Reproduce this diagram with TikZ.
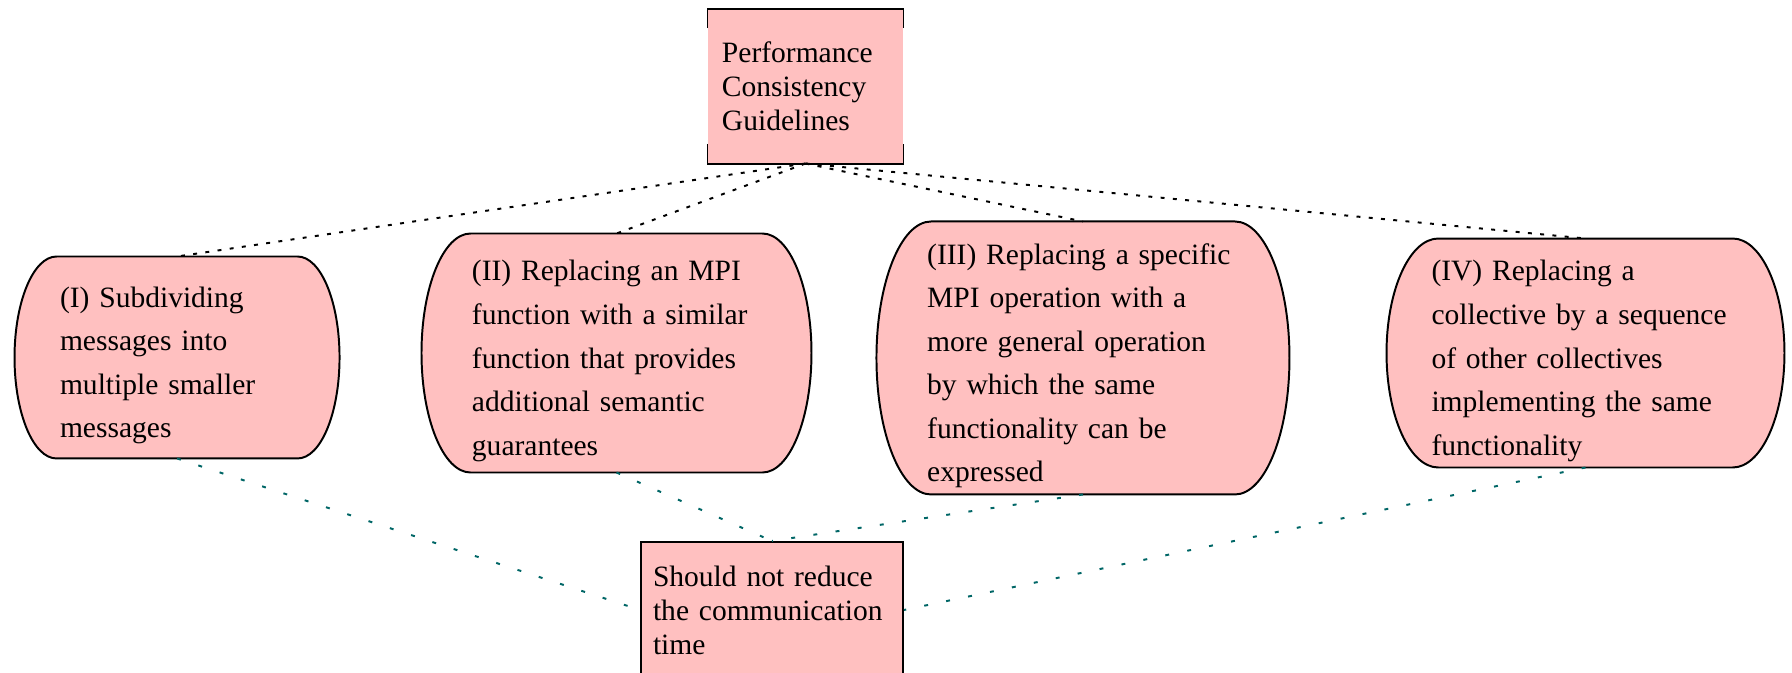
\documentclass[tikz,border=0pt]{standalone}
\usepackage{fontspec}
\setmainfont{Liberation Serif}
\usetikzlibrary{backgrounds,calc}
\definecolor{boxpink}{RGB}{255,192,192}
\definecolor{linkteal}{RGB}{0,102,102}
\tikzset{
  capnode/.style={align=left,inner sep=0pt,text height=14.8pt,font=\fontsize{12}{17.7}\selectfont},
  capbox/.style={draw=black,line width=0.8pt,fill=boxpink},
  rectnode/.style={align=left,inner sep=0pt,fill=boxpink,font=\fontsize{12}{13.8}\selectfont},
  bracketline/.style={line width=0.8pt},
  topline/.style={line width=0.8pt,dash pattern=on 1.6pt off 3.4pt},
  botline/.style={line width=0.8pt,color=linkteal,dash pattern=on 1.6pt off 7.5pt}
}

\begin{document}
\begin{tikzpicture}
  \useasboundingbox (0,0) rectangle (25.6,-9.614);
  % guideline box on top
  \node[rectnode,minimum width=2.786cm,minimum height=2.2cm,text width=2.386cm] (guide) at (11.507,-1.229)
    {Performance\\Consistency\\Guidelines};
  \draw[bracketline] ([yshift=-0.28cm]guide.north west) -- (guide.north west) -- (guide.north east) -- ([yshift=-0.28cm]guide.north east);
  \draw[bracketline] ([yshift=0.28cm]guide.south west) -- (guide.south west) -- (guide.south east) -- ([yshift=0.28cm]guide.south east);
  % the four rules
  \node[capnode,minimum width=4.629cm,minimum height=2.871cm,text width=3.343cm] (sub) at (2.529,-5.107)
    {(I) Subdividing\\messages into\\multiple smaller\\messages};
  \node[capnode,minimum width=5.557cm,minimum height=3.4cm,text width=4.129cm] (rep) at (8.807,-5.043)
    {(II) Replacing an MPI\\function with a similar\\function that provides\\additional semantic\\guarantees};
  \node[capnode,minimum width=5.886cm,minimum height=3.886cm,text width=4.45cm] (gen) at (15.471,-5.114)
    {(III) Replacing a specific\\MPI operation with a\\more general operation\\by which the same\\functionality can be\\expressed};
  \node[capnode,minimum width=5.671cm,minimum height=3.257cm,text width=4.4cm] (coll) at (22.65,-5.043)
    {(IV) Replacing a\\collective by a sequence\\of other collectives\\implementing the same\\functionality};
  \begin{scope}[on background layer]
    \foreach \nd/\b in {sub/0.6,rep/0.7,gen/0.78,coll/0.74}
      \path[capbox] let \p1=(\nd.north), \p2=(\nd.south), \n1={0.5*(\y1-\y2)} in
        ([xshift=\b cm]\nd.north west) -- ([xshift=-\b cm]\nd.north east)
        arc[start angle=90,end angle=-90,x radius=\b cm,y radius=\n1]
        -- ([xshift=\b cm]\nd.south west)
        arc[start angle=270,end angle=90,x radius=\b cm,y radius=\n1] -- cycle;
  \end{scope}
  % constraint box at the bottom
  \node[rectnode,draw=black,line width=0.8pt,minimum width=3.743cm,minimum height=1.943cm,text width=3.4cm] (keep) at (11.029,-8.714)
    {Should not reduce\\the communication\\time};
  \foreach \t in {sub,rep,gen,coll} \draw[topline] (guide.south) -- (\t.north);
  \draw[botline] (sub.south) -- (keep.west);
  \draw[botline] (rep.south) -- (keep.north);
  \draw[botline] (gen.south) -- (keep.north);
  \draw[botline] (coll.south) -- (keep.east);
\end{tikzpicture}
\end{document}
